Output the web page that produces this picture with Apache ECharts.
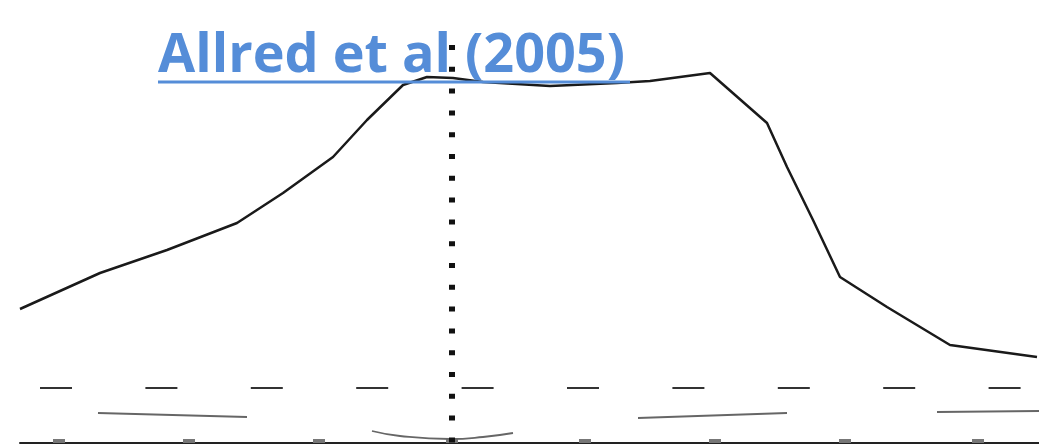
<!DOCTYPE html>
<html>
<head>
<meta charset="utf-8">
<title>Allred et al (2005)</title>
<script src="https://cdn.jsdelivr.net/npm/echarts@6/dist/echarts.min.js"></script>
<style>
  html, body { margin:0; padding:0; background:#fff; }
  #chart { width:1039px; height:447px; }
</style>
</head>
<body>
<div id="chart"></div>
<script>
// main curve
var curveX = [0, 8, 14.7, 21.7, 26.3, 31.3, 34.7, 38.3, 40.7, 43.3, 46.3, 53, 59.7, 63, 69, 74.7, 76.7, 79.3, 82, 86.7, 93, 101.7];
var curveY = [13.4, 17, 19.3, 22, 25, 28.6, 32.3, 35.8, 36.6, 36.5, 36.1, 35.7, 36, 36.2, 37, 32, 27.6, 22.3, 16.6, 13.6, 9.8, 8.6];

// dotted vertical marker
var markerX = 43.2;
var markerY = [0, 39.8];

// dashed horizontal reference
var refY = 5.5;
var refX = [2, 100.2];

// faint lower segments
var segA = [[7.8, 3.0], [22.7, 2.6]];
var segB = [[35.2, 1.2], [38, 0.7], [43, 0.4], [46.3, 0.6], [49.3, 1.0]];
var segC = [[61.8, 2.5], [76.7, 3.0]];
var segD = [[91.7, 3.1], [101.9, 3.2]];

// small ticks along the bottom axis
var tickVals = [3.9, 16.9, 29.9, 43.2, 56.5, 69.5, 82.5, 95.8];

var titleText = 'Allred et al (2005)';

function pairs(xs, ys) {
    var out = [];
    for (var i = 0; i < xs.length; i++) out.push([xs[i], ys[i]]);
    return out;
}

// measure title so it can be squeezed to the original width
var titleFont = 'bold 54px "Open Sans"';
var cv = document.createElement('canvas').getContext('2d');
cv.font = titleFont;
var titleW = cv.measureText(titleText).width;
var titleScale = 467 / titleW;

var myChart = echarts.init(document.getElementById('chart'));

function faint(d) {
    return {
        type: 'line', data: d, symbol: 'none', smooth: true, silent: true,
        lineStyle: { color: '#666', width: 1.8 }
    };
}

var option = {
    animation: false,
    backgroundColor: '#fff',
    grid: { left: 20, right: 0, top: 0, bottom: 4 },
    xAxis: {
        type: 'value', min: 0, max: 101.9,
        splitLine: { show: false },
        axisLine: { show: true, lineStyle: { color: '#222', width: 2 } },
        axisTick: { show: true, inside: true, length: 4, customValues: tickVals,
            lineStyle: { color: '#777', width: 12 } },
        axisLabel: { show: false }
    },
    yAxis: {
        type: 'value', min: 0, max: 44.3, show: false,
        splitLine: { show: false }
    },
    graphic: [
        {
            type: 'text', x: 158, y: 57, scaleX: titleScale, z: 10,
            style: { text: titleText, font: titleFont, fill: '#558DD8',
                verticalAlign: 'middle', align: 'left' }
        },
        {
            type: 'rect', shape: { x: 158, y: 80.5, width: 472, height: 3 }, z: 10,
            style: { fill: '#558DD8' }
        }
    ],
    series: [
        faint(segA), faint(segB), faint(segC), faint(segD),
        {
            type: 'line', data: [[refX[0], refY], [refX[1], refY]], symbol: 'none', silent: true,
            lineStyle: { color: '#333', width: 2, type: [32, 73.4] }
        },
        {
            type: 'line', data: pairs(curveX, curveY), symbol: 'none', silent: true,
            lineStyle: { color: '#1a1a1a', width: 2.5, join: 'round' }
        },
        {
            type: 'line', data: [[markerX, markerY[1]], [markerX, markerY[0]]], symbol: 'none', silent: true,
            z: 20,
            lineStyle: { color: '#111', width: 6, type: [5, 16.8] }
        }
    ]
};
myChart.setOption(option);
</script>
</body>
</html>
